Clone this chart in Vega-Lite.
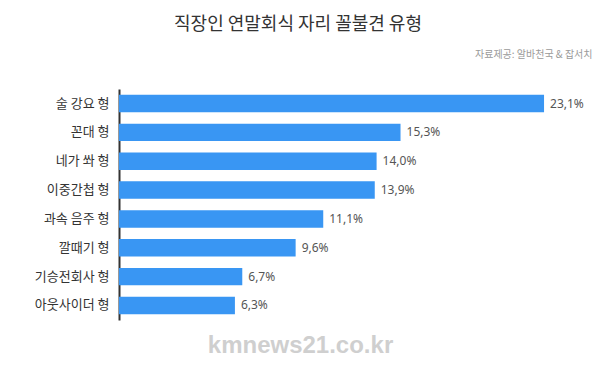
{
  "$schema": "https://vega.github.io/schema/vega-lite/v6.json",
  "width": 460,
  "height": 231,
  "autosize": {"type": "none"},
  "padding": {"left": 119, "top": 89, "right": 21, "bottom": 46},
  "background": "white",
  "config": {"view": {"stroke": null}, "font": "Noto Sans CJK KR"},
  "title": {
    "text": "직장인 연말회식 자리 꼴불견 유형",
    "anchor": "middle",
    "frame": "group",
    "dx": -51,
    "dy": -11,
    "fontSize": 18,
    "fontWeight": "normal",
    "color": "#333333",
    "font": "Noto Sans CJK KR"
  },
  "data": {
    "values": [
      {"type": "술 강요 형", "value": 23.1, "label": "23,1%"},
      {"type": "꼰대 형", "value": 15.3, "label": "15,3%"},
      {"type": "네가 쏴 형", "value": 14.0, "label": "14,0%"},
      {"type": "이중간첩 형", "value": 13.9, "label": "13,9%"},
      {"type": "과속 음주 형", "value": 11.1, "label": "11,1%"},
      {"type": "깔때기 형", "value": 9.6, "label": "9,6%"},
      {"type": "기승전회사 형", "value": 6.7, "label": "6,7%"},
      {"type": "아웃사이더 형", "value": 6.3, "label": "6,3%"}
    ]
  },
  "encoding": {
    "y": {
      "field": "type",
      "type": "nominal",
      "sort": null,
      "scale": {"paddingInner": 0.395, "paddingOuter": 0.2},
      "axis": {
        "title": null,
        "ticks": false,
        "labelFontSize": 13,
        "labelColor": "#333333",
        "labelPadding": 10,
        "domainColor": "#333333",
        "domainWidth": 2,
        "labelFont": "Noto Sans CJK KR"
      }
    }
  },
  "layer": [
    {
      "mark": {"type": "bar", "color": "#3996f3"},
      "encoding": {
        "x": {
          "field": "value",
          "type": "quantitative",
          "scale": {"domain": [0, 25], "nice": false},
          "axis": {
            "orient": "bottom",
            "labels": false,
            "ticks": false,
            "domain": false,
            "grid": false,
            "title": "kmnews21.co.kr",
            "titleFontSize": 24,
            "titleFont": "Liberation Sans",
            "titleFontWeight": "bold",
            "titleColor": "#cfcfcf",
            "titleX": 181,
            "titleY": 25,
            "titleAlign": "center",
            "titleBaseline": "middle"
          }
        }
      }
    },
    {
      "mark": {"type": "text", "align": "left", "dx": 6, "fontSize": 12, "color": "#555555", "font": "Noto Sans"},
      "encoding": {
        "x": {
          "field": "value",
          "type": "quantitative",
          "axis": {
            "orient": "top",
            "labels": false,
            "ticks": false,
            "domain": false,
            "grid": false,
            "title": "자료제공: 알바천국 & 잡서치",
            "titleFontSize": 10,
            "titleFontWeight": "normal",
            "titleFont": "Noto Sans CJK KR",
            "titleColor": "#9a9a9a",
            "titleX": 473,
            "titleY": -35,
            "titleAlign": "right",
            "titleBaseline": "middle"
          }
        },
        "text": {"field": "label"}
      }
    }
  ]
}
